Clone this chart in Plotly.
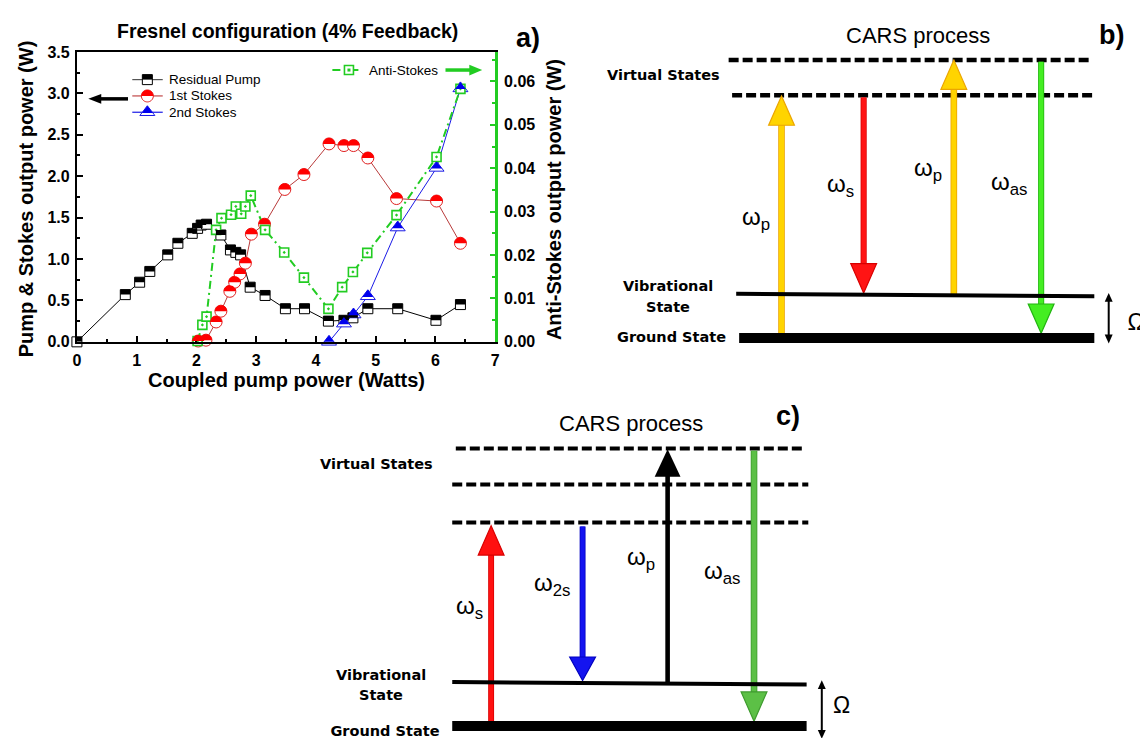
import numpy as np
import plotly.graph_objects as go

W, H = 1140, 738

# ---------------- Panel a: output powers vs coupled pump power ----------------
pump_x = [0.00, 0.81, 1.05, 1.22, 1.52, 1.69, 1.93, 2.02, 2.08, 2.17, 2.41, 2.57, 2.66,
          2.74, 2.90, 3.15, 3.49, 3.81, 4.21, 4.47, 4.62, 4.87, 5.37, 6.01, 6.42]
pump_w = [0.00, 0.57, 0.72, 0.85, 1.05, 1.19, 1.31, 1.37, 1.41, 1.42, 1.29, 1.11, 1.08,
          1.05, 0.66, 0.56, 0.40, 0.40, 0.25, 0.26, 0.29, 0.40, 0.40, 0.26, 0.45]

stokes1_x = [2.03, 2.16, 2.33, 2.41, 2.56, 2.64, 2.73, 2.82, 2.92, 3.14, 3.48, 3.80,
             4.22, 4.47, 4.63, 4.87, 5.35, 6.02, 6.42]
stokes1_w = [0.01, 0.02, 0.24, 0.37, 0.61, 0.72, 0.82, 0.95, 1.30, 1.42, 1.84, 2.02,
             2.39, 2.37, 2.37, 2.22, 1.73, 1.70, 1.19]

stokes2_x = [4.22, 4.47, 4.63, 4.87, 5.37, 6.02, 6.42]
stokes2_w = [0.00, 0.22, 0.33, 0.55, 1.38, 2.10, 3.06]

anti_x = [2.02, 2.10, 2.17, 2.33, 2.42, 2.58, 2.66, 2.75, 2.82, 2.91, 3.15, 3.47, 3.80,
          4.21, 4.44, 4.62, 4.86, 5.35, 6.02, 6.42]
anti_w = [0.0002, 0.0039, 0.0058, 0.0258, 0.0285, 0.0293, 0.0312, 0.0295, 0.0312, 0.0337,
          0.0258, 0.0206, 0.0148, 0.0076, 0.0126, 0.0161, 0.0205, 0.0292, 0.0426, 0.0583]

x_tickvals = [0, 1, 2, 3, 4, 5, 6, 7]
left_tickvals = [0.0, 0.5, 1.0, 1.5, 2.0, 2.5, 3.0, 3.5]
left_ticktext = ["0.0", "0.5", "1.0", "1.5", "2.0", "2.5", "3.0", "3.5"]
right_tickvals = [0.00, 0.01, 0.02, 0.03, 0.04, 0.05, 0.06]
right_ticktext = ["0.00", "0.01", "0.02", "0.03", "0.04", "0.05", "0.06"]

GREEN = "#22CC22"
SANS = "Liberation Sans, Arial, sans-serif"
WIDE = "DejaVu Sans, Verdana, sans-serif"

shapes, annos = [], []


def fx(x):
    return x / W


def fy(y):
    return 1 - y / H


def seg(x0, y0, x1, y1, color, width, dash=None):
    shapes.append(dict(type="line", xref="paper", yref="paper",
                       x0=fx(x0), y0=fy(y0), x1=fx(x1), y1=fy(y1),
                       line=dict(color=color, width=width, dash=dash)))


def poly(points, fill, edge=None, ew=0):
    d = "M" + "L".join(f"{fx(x):.5f},{fy(y):.5f}" for x, y in points) + "Z"
    shapes.append(dict(type="path", xref="paper", yref="paper", path=d,
                       fillcolor=fill, line=dict(color=edge or fill, width=ew)))


def arrow(x, y_tail, y_tip, color, shaft, head_len, head_w, edge=None):
    s = 1 if y_tip > y_tail else -1
    base = y_tip - s * head_len
    if edge:
        seg(x, y_tail, x, base + s, edge, shaft + 1.6)
    seg(x, y_tail, x, base + s, color, shaft)
    poly([(x - head_w / 2, base), (x + head_w / 2, base), (x, y_tip)], color, edge,
         1.2 if edge else 0)


def harrow(x_tail, x_tip, y, color, shaft, head_len, head_w):
    s = 1 if x_tip > x_tail else -1
    base = x_tip - s * head_len
    seg(x_tail, y, base + s, y, color, shaft)
    poly([(base, y - head_w / 2), (base, y + head_w / 2), (x_tip, y)], color)


def double_arrow(x, y_top, y_bot, head_len=9, head_w=8):
    seg(x, y_top + head_len - 1, x, y_bot - head_len + 1, "black", 2)
    poly([(x - head_w / 2, y_top + head_len), (x + head_w / 2, y_top + head_len), (x, y_top)], "black")
    poly([(x - head_w / 2, y_bot - head_len), (x + head_w / 2, y_bot - head_len), (x, y_bot)], "black")


def text(x, y, s, size, family=SANS, angle=0, xanchor="center"):
    annos.append(dict(text=s, x=fx(x), y=fy(y), xref="paper", yref="paper",
                      showarrow=False, xanchor=xanchor, yanchor="middle",
                      textangle=angle, font=dict(family=family, size=size, color="black")))


def edge_text(x, y, s, size, family=SANS):
    # label of an invisible box, so the text may run past the page edge
    shapes.append(dict(type="rect", xref="paper", yref="paper",
                       x0=fx(x - 70), x1=fx(x + 70), y0=fy(y + 12), y1=fy(y - 12),
                       line=dict(width=0), fillcolor="rgba(0,0,0,0)",
                       label=dict(text=s, textposition="middle center",
                                  font=dict(family=family, size=size, color="black"))))


def marker_path(kind, r, part):
    if kind == "square":
        if part == "full":
            pts = [(-r, -r), (r, -r), (r, r), (-r, r)]
        else:
            pts = [(-r, 0), (r, 0), (r, r), (-r, r)]
    elif kind == "circle":
        if part == "full":
            a = np.linspace(0, 2 * np.pi, 37)[:-1]
        else:
            a = np.linspace(0, np.pi, 19)
        pts = list(zip(r * np.cos(a), r * np.sin(a)))
    else:  # triangle-up, same geometry as the plotly symbol
        rt = 2 * r / np.sqrt(3)
        if part == "full":
            pts = [(-rt, -r / 2), (rt, -r / 2), (0, r)]
        else:
            cut = -0.1 * r
            w = rt * (r - cut) / (1.5 * r)
            pts = [(-w, cut), (w, cut), (0, r)]
    return "M" + "L".join(f"{a:.2f},{b:.2f}" for a, b in pts) + "Z"


def pixel_marker(xref, yref, xa, ya, kind, size, part, fill, edge=None, ew=0):
    shapes.append(dict(type="path", xref=xref, yref=yref, xsizemode="pixel",
                       ysizemode="pixel", xanchor=xa, yanchor=ya,
                       path=marker_path(kind, size / 2, part), fillcolor=fill,
                       line=dict(color=edge or fill, width=ew)))


fig = go.Figure()

SQ, CI, TR = 10, 12, 13
fig.add_trace(go.Scatter(
    x=pump_x, y=pump_w, mode="lines+markers", cliponaxis=False,
    line=dict(color="black", width=1),
    marker=dict(symbol="square", size=SQ, color="white", line=dict(color="black", width=1))))
fig.add_trace(go.Scatter(
    x=stokes1_x, y=stokes1_w, mode="lines+markers", cliponaxis=False,
    line=dict(color="#B83A3A", width=1),
    marker=dict(symbol="circle", size=CI, color="white", line=dict(color="#E02020", width=1))))
fig.add_trace(go.Scatter(
    x=stokes2_x, y=stokes2_w, mode="lines+markers", cliponaxis=False,
    line=dict(color="#1A1AE6", width=1),
    marker=dict(symbol="triangle-up", size=TR, color="white", line=dict(color="#1A1AE6", width=1))))
fig.add_trace(go.Scatter(
    x=anti_x, y=anti_w, yaxis="y2", mode="lines+markers", cliponaxis=False,
    line=dict(color=GREEN, width=2, dash="8px,4px,2px,4px"),
    marker=dict(symbol="square-dot", size=9, color="white", line=dict(color=GREEN, width=1.6))))

# upper halves of the split markers
for x, y in zip(pump_x, pump_w):
    pixel_marker("x", "y", x, y, "square", SQ, "half", "black")
for x, y in zip(stokes1_x, stokes1_w):
    pixel_marker("x", "y", x, y, "circle", CI, "half", "#FF0000")
for x, y in zip(stokes2_x, stokes2_w):
    pixel_marker("x", "y", x, y, "triangle", TR, "half", "#0000EE")

# legend of the left-axis series
legend_rows = [("Residual Pump", 73.3, "square", SQ, "black", "#555555", "black"),
               ("1st Stokes", 90.0, "circle", CI, "#FF0000", "#C04848", "#E02020"),
               ("2nd Stokes", 106.7, "triangle", TR, "#0000EE", "#1A1AE6", "#1A1AE6")]
for label, yy, kind, size, fill, lcol, ecol in legend_rows:
    seg(129.3, yy, 160, yy, lcol, 1.2)
    pixel_marker("paper", "paper", fx(144.5), fy(yy), kind, size, "full", "white", ecol, 1)
    pixel_marker("paper", "paper", fx(144.5), fy(yy), kind, size, "half", fill)
    text(164, yy, label, 13.5, xanchor="left")

# anti-Stokes legend entry with arrow to the right axis
seg(331, 63.5, 361, 63.5, GREEN, 2, dash="8px,4px,2px,4px")
pixel_marker("paper", "paper", fx(347.7), fy(63.5), "square", 9, "full", "white", GREEN, 1.6)
pixel_marker("paper", "paper", fx(347.7), fy(63.5), "square", 3, "full", GREEN)
text(366, 63.5, "Anti-Stokes", 13.5, xanchor="left")
harrow(445, 482, 63.5, GREEN, 3.5, 13, 11)

# arrow to the left axis
harrow(125, 85, 93, "black", 3.5, 13, 10)

# panel a texts
text(286, 24, "<b>Fresnel configuration (4% Feedback)</b>", 19.5)
text(528, 31, "<b>a)</b>", 27)
text(284.6, 381, "<b>Coupled pump power (Watts)</b>", 20)
text(22, 195, "<b>Pump &amp; Stokes output power (W)</b>", 20, angle=-90)
text(555, 196, "<b>Anti-Stokes output power (W)</b>", 20, angle=-90)

# ---------------- Panel b: CARS energy diagram ----------------
text(921.6, 28.5, "CARS process", 22)
text(1116, 28, "<b>b)</b>", 27)
seg(730.4, 53.3, 1097, 53.3, "black", 4.5, dash="10px,4px")
seg(733.9, 89.3, 1099.5, 89.3, "black", 4.5, dash="10px,4px")
text(664.4, 69, "<b>Virtual States</b>", 14.5, family=WIDE)
text(669, 285, "<b>Vibrational</b>", 14.5, family=WIDE)
text(669, 306, "<b>State</b>", 14.5, family=WIDE)
text(672.5, 336.5, "<b>Ground State</b>", 14.5, family=WIDE)

YEL, YEL_E = "#FFD400", "#EBA500"
arrow(783.7, 333, 90, YEL, 5, 30, 26, YEL_E)
arrow(866.5, 91.7, 291.7, "#FF1414", 4.5, 30, 26, "#D80000")
arrow(957.4, 293.5, 53.3, YEL, 5, 30, 26, YEL_E)
arrow(1045.4, 55, 333, "#44EE22", 4.5, 30, 26, "#22B411")
seg(738, 292.5, 1099, 295, "black", 4)
seg(741, 337.7, 1099, 337.7, "black", 10)
double_arrow(1113.5, 291.7, 343.3)
text(757.7, 215, "ω<sub>p</sub>", 24)
text(843.3, 182, "ω<sub>s</sub>", 24)
text(931, 165, "ω<sub>p</sub>", 24)
text(1013, 180, "ω<sub>as</sub>", 24)
edge_text(1141, 319, "Ω", 23)

# ---------------- Panel c: CARS with second Stokes ----------------
text(632, 425, "CARS process", 22)
text(790, 418, "<b>c)</b>", 27)
seg(455.4, 451, 807, 451, "black", 4, dash="10px,4px")
seg(451.8, 487.7, 810.7, 487.7, "black", 4, dash="10px,4px")
seg(451.8, 526.7, 810.7, 526.7, "black", 4, dash="10px,4px")
text(375.7, 466.7, "<b>Virtual States</b>", 14.5, family=WIDE)
text(380, 682.3, "<b>Vibrational</b>", 14.5, family=WIDE)
text(380, 703.3, "<b>State</b>", 14.5, family=WIDE)
edge_text(384, 739, "<b>Ground State</b>", 14.5, family=WIDE)

arrow(491, 740, 530, "#FF1010", 4.3, 30, 26, "#D80000")
arrow(583.2, 530.7, 688.3, "#1414F0", 4.3, 24, 26, "#0000C0")
arrow(668.9, 691, 451.7, "black", 4.6, 28, 26)
arrow(756, 453.3, 730, "#5CC046", 5, 30, 26, "#3E9A2E")
seg(451.8, 690, 809, 692.5, "black", 4)
seg(451.8, 735, 809, 735, "black", 10)
double_arrow(824.3, 688, 748)
text(469.6, 613.3, "ω<sub>s</sub>", 24)
text(552.5, 590, "ω<sub>2s</sub>", 24)
text(642, 563.3, "ω<sub>p</sub>", 24)
text(724, 578.3, "ω<sub>as</sub>", 24)
text(844.6, 713.3, "Ω", 23)

tickfont = dict(family=SANS, size=16, color="black", weight="bold")
fig.update_layout(
    width=W, height=H, autosize=False,
    margin=dict(l=0, r=0, t=0, b=0),
    paper_bgcolor="white", plot_bgcolor="white",
    showlegend=False, hovermode=False,
    xaxis=dict(domain=[73.5 / W, 495 / W], range=[0, 7], tickvals=x_tickvals,
               showgrid=False, zeroline=False, showline=True, linecolor="black",
               linewidth=2, mirror=True, ticks="inside", ticklen=6, tickwidth=1.5,
               tickcolor="black", tickfont=tickfont, ticklabelstandoff=3,
               minor=dict(ticks="inside", ticklen=3, dtick=0.5, tickwidth=1.5,
                          tickcolor="black")),
    yaxis=dict(domain=[1 - 341.7 / H, 1 - 45 / H], range=[0, 3.5],
               tickvals=left_tickvals, ticktext=left_ticktext,
               showgrid=False, zeroline=False, showline=True, linecolor="black",
               linewidth=2, ticks="inside", ticklen=6, tickwidth=1.5, tickcolor="black",
               tickfont=tickfont, ticklabelstandoff=2,
               minor=dict(ticks="inside", ticklen=3, dtick=0.25, tickwidth=1.5,
                          tickcolor="black")),
    yaxis2=dict(overlaying="y", side="right", anchor="x", range=[0, 0.0668],
                tickvals=right_tickvals, ticktext=right_ticktext,
                showgrid=False, zeroline=False, showline=True, linecolor=GREEN,
                linewidth=2.5, ticks="inside", ticklen=5, tickwidth=1.5, tickcolor=GREEN,
                tickfont=tickfont, ticklabelstandoff=3,
                minor=dict(ticks="inside", ticklen=3, dtick=0.005, tickwidth=1.5,
                           tickcolor=GREEN)),
    shapes=shapes,
    annotations=annos,
)

fig.write_html("out.html")
